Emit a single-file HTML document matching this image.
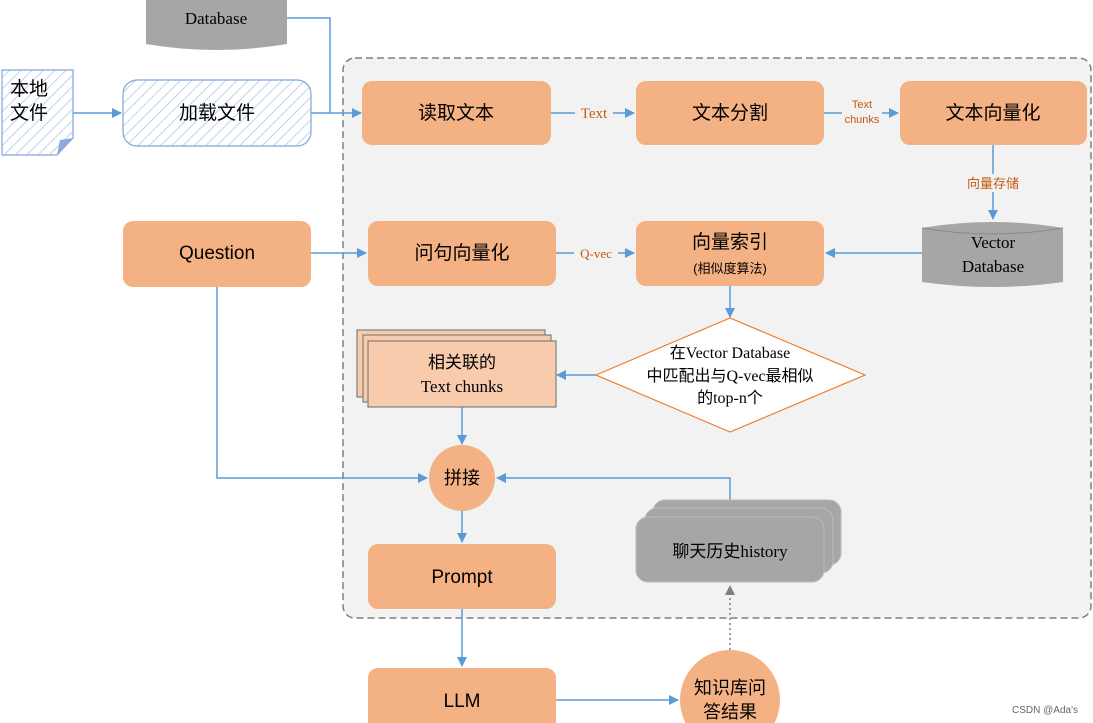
<!DOCTYPE html>
<html><head><meta charset="utf-8"><style>
html,body{margin:0;padding:0;background:#fff;}
svg{display:block;font-family:"Liberation Serif","Noto Sans CJK SC",serif;}
.s{font-family:"Liberation Sans","Noto Sans CJK SC",sans-serif;}
</style></head><body>
<svg width="1093" height="723" viewBox="0 0 1093 723" xmlns="http://www.w3.org/2000/svg">
<defs>
<pattern id="h" width="8" height="8" patternUnits="userSpaceOnUse" patternTransform="rotate(45)">
<rect width="8" height="8" fill="#fff"/><line x1="0" y1="0" x2="0" y2="8" stroke="#a9c4e8" stroke-width="1.5"/></pattern>
<marker id="a" markerWidth="10" markerHeight="10" refX="9" refY="5" orient="auto" markerUnits="userSpaceOnUse"><path d="M0,0 L10,5 L0,10 z" fill="#5b9bd5"/></marker>
<marker id="g" markerWidth="10" markerHeight="10" refX="9" refY="5" orient="auto" markerUnits="userSpaceOnUse"><path d="M0,0 L10,5 L0,10 z" fill="#7f7f7f"/></marker>
</defs>
<!-- container -->
<rect x="343" y="58" width="748" height="560" rx="12" fill="#f2f2f2" stroke="#7f7f7f" stroke-width="1.5" stroke-dasharray="7,4"/>
<!-- top database -->
<path d="M146,0 L287,0 L287,44 Q216,56 146,44 Z" fill="#a6a6a6"/>
<text x="216" y="24" font-size="17" text-anchor="middle">Database</text>
<!-- local file -->
<path d="M2,70 L73,70 L73,138 L57,155 L2,155 Z" fill="url(#h)" stroke="#7fa6d9" stroke-width="1.2"/>
<path d="M57,155 L60,140 L73,138 Z" fill="#8eaadb"/>
<text x="10" y="95" font-size="19" class="s">本地</text>
<text x="10" y="119" font-size="19" class="s">文件</text>
<rect x="123" y="80" width="188" height="66" rx="14" fill="url(#h)" stroke="#7fa6d9" stroke-width="1.2"/>
<text x="217" y="119" font-size="19" text-anchor="middle" class="s">加载文件</text>
<g stroke="#5b9bd5" stroke-width="1.5" fill="none">
<line x1="73" y1="113" x2="121" y2="113" marker-end="url(#a)"/>
<polyline points="287,18 330,18 330,113"/>
<line x1="311" y1="113" x2="361" y2="113" marker-end="url(#a)"/>
<line x1="551" y1="113" x2="634" y2="113" marker-end="url(#a)"/>
<line x1="824" y1="113" x2="898" y2="113" marker-end="url(#a)"/>
<line x1="993" y1="145" x2="993" y2="219" marker-end="url(#a)"/>
<line x1="922" y1="253" x2="826" y2="253" marker-end="url(#a)"/>
<line x1="556" y1="253" x2="634" y2="253" marker-end="url(#a)"/>
<line x1="311" y1="253" x2="366" y2="253" marker-end="url(#a)"/>
<line x1="730" y1="286" x2="730" y2="317" marker-end="url(#a)"/>
<line x1="596" y1="375" x2="557" y2="375" marker-end="url(#a)"/>
<line x1="462" y1="407" x2="462" y2="444" marker-end="url(#a)"/>
<polyline points="217,287 217,478 427,478" marker-end="url(#a)"/>
<polyline points="730,505 730,478 497,478" marker-end="url(#a)"/>
<line x1="462" y1="511" x2="462" y2="542" marker-end="url(#a)"/>
<line x1="462" y1="609" x2="462" y2="666" marker-end="url(#a)"/>
<line x1="556" y1="700" x2="678" y2="700" marker-end="url(#a)"/>
</g>
<line x1="730" y1="650" x2="730" y2="586" stroke="#7f7f7f" stroke-width="1.5" stroke-dasharray="2,3" marker-end="url(#g)"/>
<!-- labels -->
<rect x="575" y="103" width="38" height="18" fill="#f2f2f2"/>
<text x="594" y="118" font-size="15" fill="#c55a11" text-anchor="middle">Text</text>
<rect x="842" y="98" width="40" height="30" fill="#f2f2f2"/>
<text x="862" y="108" font-size="11" fill="#c55a11" text-anchor="middle" class="s">Text</text>
<text x="862" y="123" font-size="11" fill="#c55a11" text-anchor="middle" class="s">chunks</text>
<rect x="958" y="174" width="70" height="18" fill="#f2f2f2"/>
<text x="993" y="188" font-size="13" fill="#c55a11" text-anchor="middle" class="s">向量存储</text>
<rect x="574" y="244" width="44" height="18" fill="#f2f2f2"/>
<text x="596" y="258" font-size="13" fill="#c55a11" text-anchor="middle">Q-vec</text>
<!-- orange boxes -->
<g fill="#f4b183">
<rect x="362" y="81" width="189" height="64" rx="10"/>
<rect x="636" y="81" width="188" height="64" rx="10"/>
<rect x="900" y="81" width="187" height="64" rx="10"/>
<rect x="636" y="221" width="188" height="65" rx="10"/>
<rect x="368" y="221" width="188" height="65" rx="10"/>
<rect x="123" y="221" width="188" height="66" rx="10"/>
<rect x="368" y="544" width="188" height="65" rx="10"/>
<rect x="368" y="668" width="188" height="65" rx="10"/>
<circle cx="462" cy="478" r="33"/>
<circle cx="730" cy="700" r="50"/>
</g>
<g font-size="19" text-anchor="middle" class="s">
<text x="456" y="119">读取文本</text>
<text x="730" y="119">文本分割</text>
<text x="993" y="119">文本向量化</text>
<text x="730" y="248">向量索引</text>
<text x="730" y="273" font-size="13">(相似度算法)</text>
<text x="462" y="259">问句向量化</text>
<text x="217" y="259">Question</text>
<text x="462" y="583">Prompt</text>
<text x="462" y="707">LLM</text>
<text x="462" y="484" font-size="18">拼接</text>
<text x="730" y="694" font-size="18">知识库问</text>
<text x="730" y="718" font-size="18">答结果</text>
</g>
<!-- vector db -->
<path d="M922,228 Q992,216 1063,228 L1063,282 Q992,292 922,282 Z" fill="#a6a6a6"/>
<path d="M922,228 Q992,240 1063,228" fill="none" stroke="#8a8a8a"/>
<text x="993" y="248" font-size="17" text-anchor="middle">Vector</text>
<text x="993" y="272" font-size="17" text-anchor="middle">Database</text>
<!-- diamond -->
<path d="M596,375 L730,318 L865,375 L730,432 Z" fill="#fff" stroke="#ed7d31" stroke-width="1.2"/>
<text x="730" y="358" font-size="16" text-anchor="middle">在Vector Database</text>
<text x="730" y="381" font-size="16" text-anchor="middle">中匹配出与Q-vec最相似</text>
<text x="730" y="403" font-size="16" text-anchor="middle">的top-n个</text>
<!-- stacked chunks -->
<g fill="#f8cbad" stroke="#7f7f7f" stroke-width="1.2">
<rect x="357" y="330" width="188" height="67"/>
<rect x="363" y="335" width="188" height="67"/>
<rect x="368" y="341" width="188" height="66"/>
</g>
<text x="462" y="368" font-size="17" text-anchor="middle" class="s">相关联的</text>
<text x="462" y="392" font-size="17" text-anchor="middle">Text chunks</text>
<!-- history -->
<g fill="#a6a6a6" stroke="#bbb" stroke-width="1">
<rect x="653" y="500" width="188" height="65" rx="12"/>
<rect x="645" y="508" width="188" height="65" rx="12"/>
<rect x="636" y="517" width="188" height="65" rx="12"/>
</g>
<text x="730" y="557" font-size="17" text-anchor="middle">聊天历史history</text>
<text x="1078" y="713" font-size="10" fill="#666" text-anchor="end" class="s">CSDN @Ada's</text>
</svg>
</body></html>
